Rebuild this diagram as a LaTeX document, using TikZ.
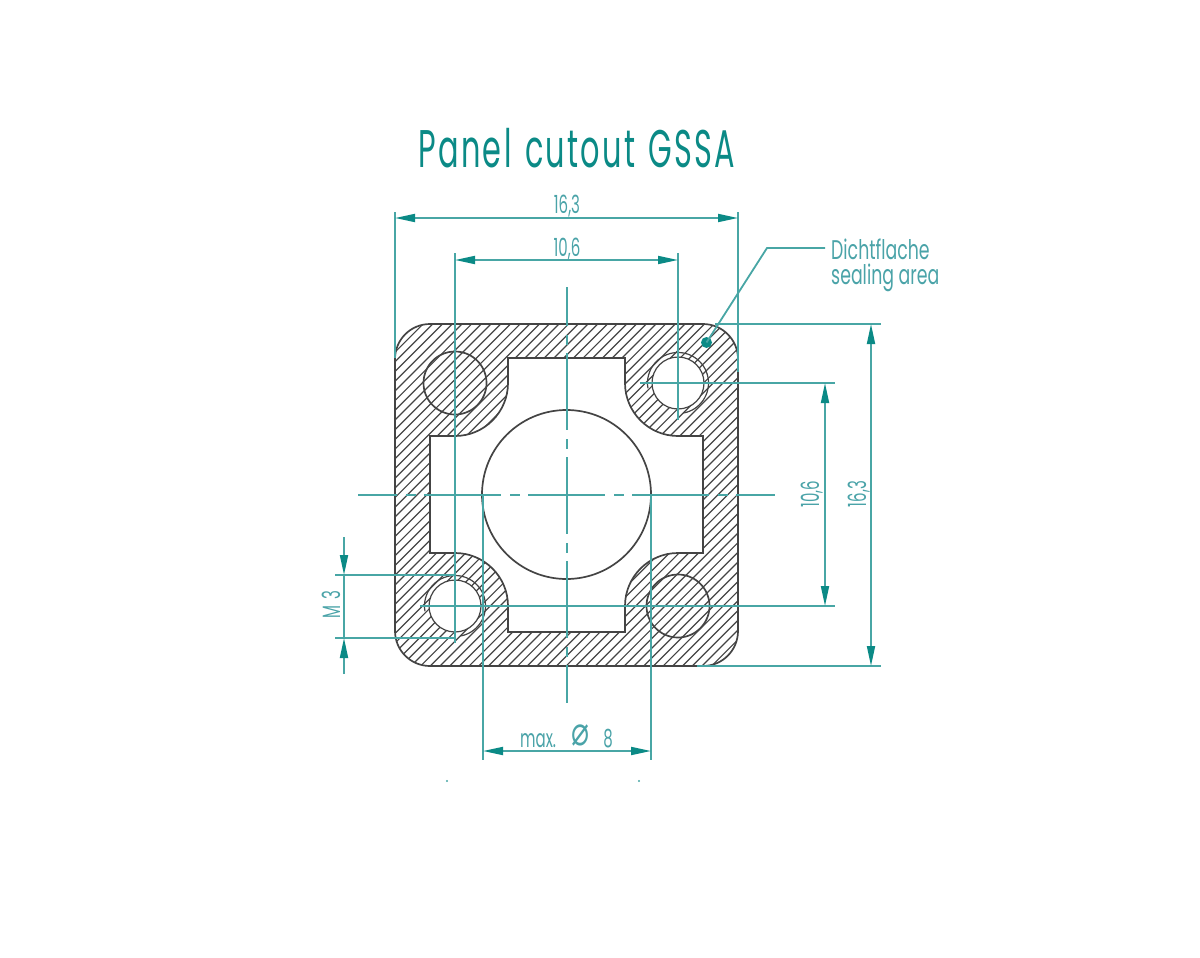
\documentclass[tikz,border=0pt]{standalone}
\usepackage{fontspec}
\setmainfont{Poppins}[FakeStretch=0.6]
\newfontfamily\titlefont{Poppins}[FakeStretch=0.6,LetterSpace=4.5,WordSpace=1.3]
\newfontfamily\symfont{DejaVu Sans}
\usetikzlibrary{arrows.meta}
\definecolor{dimteal}{HTML}{48A6A5}
\definecolor{tipteal}{HTML}{0B8A86}
\definecolor{txtteal}{HTML}{4AA3A8}
\definecolor{inkline}{HTML}{444444}
\tikzset{
  dimline/.style={draw=dimteal,line width=1.8pt},
  dimarrow/.style={dimline,{Triangle[length=20pt,width=8pt,color=tipteal]}-{Triangle[length=20pt,width=8pt,color=tipteal]}},
  oneway/.style={dimline,-{Triangle[length=20pt,width=8pt,color=tipteal]}},
  centre/.style={dimline,line width=1.6pt,dash pattern=on 77pt off 9pt on 10pt off 8pt,dash phase=38pt},
  outline/.style={draw=inkline,line width=1.7pt},
  thinring/.style={draw=inkline,line width=1.2pt},
  hatchline/.style={draw=inkline,line width=1.2pt},
  dimtext/.style={text=txtteal,inner sep=0pt,font=\fontsize{25}{27}\selectfont},
  notetext/.style={dimtext,anchor=base west,xscale=1.07,font=\fontsize{27}{29}\selectfont},
}
\begin{document}
\begin{tikzpicture}[x=1pt,y=-1pt]
\useasboundingbox (0,0) rectangle (1200,958);
% section with hatching (y runs down, so angles run clockwise on the page)
\def\plate{(430,324) -- (703,324) arc[start angle=-90,end angle=0,radius=35] -- (738,631) arc[start angle=0,end angle=90,radius=35] -- (430,666) arc[start angle=90,end angle=180,radius=35] -- (395,359) arc[start angle=180,end angle=270,radius=35] -- cycle}
\def\cutout{(508,358) -- (625,358) -- (625,383) arc[start angle=180,end angle=90,radius=53] -- (703,436) -- (703,553) -- (678,553) arc[start angle=-90,end angle=-180,radius=53] -- (625,632) -- (508,632) -- (508,606) arc[start angle=0,end angle=-90,radius=53] -- (430,553) -- (430,436) -- (455,436) arc[start angle=90,end angle=0,radius=53] -- cycle}
\begin{scope}[even odd rule]
  \clip \plate \cutout;
  \foreach \k in {0,...,75}{
    \draw[hatchline] ({395+\k*9.7},323) -- ({395+\k*9.7-344},667);
  }
\end{scope}
% threaded holes knocked out of the hatching
\fill[white] (678,383) circle[radius=26];
\fill[white] (455,606) circle[radius=26];
\draw[outline] \plate;
\draw[outline] \cutout;
\draw[outline] (566.5,494.5) circle[radius=84.5];
\draw[outline] (455,383) circle[radius=31.5];
\draw[outline] (678,606) circle[radius=31.5];
\draw[thinring] (678,383) circle[radius=26];
\draw[thinring] (455,606) circle[radius=26];
\draw[thinring] (678,383) ++(170:30.5) arc[start angle=170,end angle=440,radius=30.5];
\draw[thinring] (455,606) ++(170:30.5) arc[start angle=170,end angle=440,radius=30.5];
% centre lines
\draw[centre] (358,495) -- (775,495);
\draw[centre] (567,287) -- (567,703);
% extension lines
\draw[dimline] (395,212) -- (395,358);
\draw[dimline] (738,212) -- (738,372);
\draw[dimline] (455,253) -- (455,643);
\draw[dimline] (678,253) -- (678,420);
\draw[dimline] (715,324) -- (881,324);
\draw[dimline] (640,383) -- (835,383);
\draw[dimline] (420,606) -- (835,606);
\draw[dimline] (697,666) -- (881,666);
\draw[dimline] (335,575) -- (455,575);
\draw[dimline] (335,638) -- (455,638);
\draw[dimline] (483,494) -- (483,760);
\draw[dimline] (651,494) -- (651,760);
% dimension lines
\draw[dimarrow] (395,218) -- (738,218);
\draw[dimarrow] (455,260) -- (678,260);
\draw[dimarrow] (483,751) -- (651,751);
\draw[dimarrow] (871,324) -- (871,666);
\draw[dimarrow] (825,383) -- (825,606);
\draw[oneway] (344,537) -- (344,575);
\draw[oneway] (344,674) -- (344,638);
\draw[dimline] (344,575) -- (344,638);
% leader
\fill[tipteal] (706.5,342.5) circle[radius=5.5];
\draw[dimline] (706.5,342.5) -- (767,248) -- (825,248);
% texts
\node[text=tipteal,inner sep=0pt,anchor=base,xscale=0.955,font=\fontsize{53}{56}\selectfont\titlefont] (title) at (577,167) {Panel cutout GSSA};
\node[dimtext,anchor=base] (t1) at (567,213) {16,3};
\node[dimtext,anchor=base] (t2) at (567,256) {10,6};
\node[notetext] (t3) at (831,259) {Dichtflache};
\node[notetext] (t4) at (831,284) {sealing area};
\node[dimtext,anchor=base,rotate=90] (t5) at (819,494) {10,6};
\node[dimtext,anchor=base,rotate=90] (t6) at (866,494) {16,3};
\node[dimtext,anchor=base,rotate=90] (t7) at (340,605) {M\hspace{6pt}3};
\node[dimtext,anchor=base west] (t8) at (520,747) {max.};
\node[dimtext,anchor=base,yscale=1.35,font=\fontsize{30}{32}\selectfont\symfont] (t9) at (580.5,745) {⌀};
\node[dimtext,anchor=base] (t10) at (608,747) {8};
% specks
\fill[dimteal] (447,781) circle[radius=1.2];
\fill[dimteal] (639,781) circle[radius=1.2];
\end{tikzpicture}
\end{document}
